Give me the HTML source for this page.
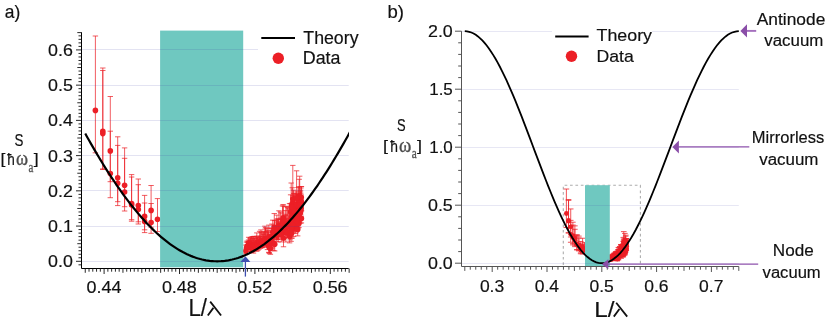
<!DOCTYPE html>
<html><head><meta charset="utf-8"><title>figure</title>
<style>html,body{margin:0;padding:0;background:#fff;font-family:"Liberation Sans",sans-serif;}svg{display:block;will-change:transform}</style></head>
<body>
<svg width="830" height="324" viewBox="0 0 830 324" style="display:block">
<rect x="0" y="0" width="830" height="324" fill="#fff"/>
<path d="M95.40 36.00V152.80M92.70 36.00H98.10M92.70 152.80H98.10M102.80 68.00V168.90M100.10 68.00H105.50M100.10 168.90H105.50M102.80 70.50V169.50M100.10 70.50H105.50M100.10 169.50H105.50M110.30 96.50V181.70M107.60 96.50H113.00M107.60 181.70H113.00M110.30 131.20V197.70M107.60 131.20H113.00M107.60 197.70H113.00M117.70 136.80V201.70M115.00 136.80H120.40M115.00 201.70H120.40M117.70 145.40V205.60M115.00 145.40H120.40M115.00 205.60H120.40M124.60 147.90V206.70M121.90 147.90H127.30M121.90 206.70H127.30M124.60 158.30V211.00M121.90 158.30H127.30M121.90 211.00H127.30M131.60 174.60V219.70M128.90 174.60H134.30M128.90 219.70H134.30M131.60 177.00V221.20M128.90 177.00H134.30M128.90 221.20H134.30M138.30 179.00V221.80M135.60 179.00H141.00M135.60 221.80H141.00M138.30 184.70V224.00M135.60 184.70H141.00M135.60 224.00H141.00M144.60 195.40V229.80M141.90 195.40H147.30M141.90 229.80H147.30M144.60 203.00V232.60M141.90 203.00H147.30M141.90 232.60H147.30M151.10 185.50V227.20M148.40 185.50H153.80M148.40 227.20H153.80M151.10 203.50V233.30M148.40 203.50H153.80M148.40 233.30H153.80M157.50 198.60V231.60M154.80 198.60H160.20M154.80 231.60H160.20M245.78 245.07V253.73M243.08 245.07H248.48M243.08 253.73H248.48M243.52 250.94H248.04M246.51 242.15V251.01M243.81 242.15H249.21M243.81 251.01H249.21M244.25 248.15H248.77M247.10 241.03V248.41M244.40 241.03H249.80M244.40 248.41H249.80M244.84 246.03H249.36M247.90 242.12V249.45M245.20 242.12H250.60M245.20 249.45H250.60M245.63 247.09H250.16M248.68 237.30V245.25M245.98 237.30H251.38M245.98 245.25H251.38M246.42 242.69H250.94M247.75 242.15V249.82M245.05 242.15H250.45M245.05 249.82H250.45M245.49 247.35H250.01M248.54 239.97V249.44M245.84 239.97H251.24M245.84 249.44H251.24M246.28 246.39H250.80M250.05 238.13V248.66M247.35 238.13H252.75M247.35 248.66H252.75M247.78 245.26H252.31M250.05 239.11V251.47M247.35 239.11H252.75M247.35 251.47H252.75M247.79 247.48H252.32M251.33 240.34V251.58M248.63 240.34H254.03M248.63 251.58H254.03M249.07 247.95H253.59M250.83 237.82V249.54M248.13 237.82H253.53M248.13 249.54H253.53M248.57 245.76H253.09M251.48 236.90V246.99M248.78 236.90H254.18M248.78 246.99H254.18M249.22 243.74H253.74M252.85 236.56V249.41M250.15 236.56H255.55M250.15 249.41H255.55M250.59 245.27H255.11M252.64 238.58V249.07M249.94 238.58H255.34M249.94 249.07H255.34M250.37 245.69H254.90M252.56 242.97V252.03M249.86 242.97H255.26M249.86 252.03H255.26M250.30 249.11H254.83M253.48 240.40V253.12M250.78 240.40H256.18M250.78 253.12H256.18M251.22 249.02H255.74M253.68 236.63V249.77M250.98 236.63H256.38M250.98 249.77H256.38M251.42 245.53H255.94M254.30 236.30V247.75M251.60 236.30H257.00M251.60 247.75H257.00M252.04 244.06H256.56M254.84 238.78V248.57M252.14 238.78H257.54M252.14 248.57H257.54M252.58 245.41H257.10M255.71 239.13V249.94M253.01 239.13H258.41M253.01 249.94H258.41M253.45 246.45H257.98M257.07 236.19V246.82M254.37 236.19H259.77M254.37 246.82H259.77M254.81 243.39H259.33M256.73 238.06V251.35M254.03 238.06H259.43M254.03 251.35H259.43M254.46 247.07H258.99M256.81 232.91V247.17M254.11 232.91H259.51M254.11 247.17H259.51M254.55 242.57H259.07M257.68 237.53V247.79M254.98 237.53H260.38M254.98 247.79H260.38M255.42 244.48H259.94M257.84 238.17V250.40M255.14 238.17H260.54M255.14 250.40H260.54M255.58 246.45H260.11M258.92 236.19V249.28M256.22 236.19H261.62M256.22 249.28H261.62M256.65 245.06H261.18M259.62 231.34V247.30M256.92 231.34H262.32M256.92 247.30H262.32M257.36 242.15H261.89M260.52 236.84V248.41M257.82 236.84H263.22M257.82 248.41H263.22M258.25 244.68H262.78M260.92 229.90V246.14M258.22 229.90H263.62M258.22 246.14H263.62M258.66 240.90H263.19M261.24 236.07V247.37M258.54 236.07H263.94M258.54 247.37H263.94M258.98 243.73H263.51M260.92 232.33V244.80M258.22 232.33H263.62M258.22 244.80H263.62M258.66 240.78H263.18M262.63 234.10V246.98M259.93 234.10H265.33M259.93 246.98H265.33M260.37 242.83H264.89M262.18 232.84V247.73M259.48 232.84H264.88M259.48 247.73H264.88M259.91 242.93H264.44M263.72 234.17V247.29M261.02 234.17H266.42M261.02 247.29H266.42M261.46 243.06H265.98M264.34 231.42V245.88M261.64 231.42H267.04M261.64 245.88H267.04M262.08 241.21H266.61M263.58 231.90V245.98M260.88 231.90H266.28M260.88 245.98H266.28M261.32 241.44H265.84M264.88 226.19V244.92M262.18 226.19H267.58M262.18 244.92H267.58M262.61 238.88H267.14M265.53 227.43V243.45M262.83 227.43H268.23M262.83 243.45H268.23M263.27 238.28H267.79M265.27 228.94V246.03M262.57 228.94H267.97M262.57 246.03H267.97M263.01 240.52H267.54M267.04 228.48V245.27M264.34 228.48H269.74M264.34 245.27H269.74M264.78 239.86H269.30M266.84 232.13V244.79M264.14 232.13H269.54M264.14 244.79H269.54M264.58 240.71H269.10M267.46 230.33V249.58M264.76 230.33H270.16M264.76 249.58H270.16M265.20 243.37H269.72M268.28 231.20V246.32M265.58 231.20H270.98M265.58 246.32H270.98M266.01 241.44H270.54M268.72 232.86V252.33M266.02 232.86H271.42M266.02 252.33H271.42M266.46 246.05H270.99M268.84 225.14V242.82M266.14 225.14H271.54M266.14 242.82H271.54M266.58 237.12H271.11M269.32 234.88V252.62M266.62 234.88H272.02M266.62 252.62H272.02M267.06 246.90H271.58M269.39 234.61V253.54M266.69 234.61H272.09M266.69 253.54H272.09M267.13 247.43H271.65M270.38 236.41V254.31M267.68 236.41H273.08M267.68 254.31H273.08M268.12 248.54H272.64M270.98 227.85V241.24M268.28 227.85H273.68M268.28 241.24H273.68M268.72 236.92H273.24M271.75 228.53V243.78M269.05 228.53H274.45M269.05 243.78H274.45M269.49 238.86H274.01M272.42 232.29V247.92M269.72 232.29H275.12M269.72 247.92H275.12M270.16 242.88H274.68M271.91 224.05V243.57M269.21 224.05H274.61M269.21 243.57H274.61M269.65 237.27H274.17M272.72 220.17V237.78M270.02 220.17H275.42M270.02 237.78H275.42M270.46 232.10H274.99M274.29 213.55V233.36M271.59 213.55H276.99M271.59 233.36H276.99M272.03 226.97H276.55M273.77 228.65V250.61M271.07 228.65H276.47M271.07 250.61H276.47M271.51 243.53H276.03M274.57 220.45V237.43M271.87 220.45H277.27M271.87 237.43H277.27M272.31 231.95H276.84M274.73 230.11V250.94M272.03 230.11H277.43M272.03 250.94H277.43M272.46 244.22H276.99M276.48 222.93V238.85M273.78 222.93H279.18M273.78 238.85H279.18M274.22 233.72H278.74M276.25 220.88V241.30M273.55 220.88H278.95M273.55 241.30H278.95M273.99 234.72H278.51M276.84 215.12V237.79M274.14 215.12H279.54M274.14 237.79H279.54M274.58 230.47H279.10M278.10 218.75V241.96M275.40 218.75H280.80M275.40 241.96H280.80M275.84 234.47H280.36M277.21 219.13V239.59M274.51 219.13H279.91M274.51 239.59H279.91M274.95 232.99H279.47M278.14 219.30V238.81M275.44 219.30H280.84M275.44 238.81H280.84M275.88 232.52H280.40M278.24 221.83V239.33M275.54 221.83H280.94M275.54 239.33H280.94M275.97 233.68H280.50M278.94 210.77V232.41M276.24 210.77H281.64M276.24 232.41H281.64M276.67 225.43H281.20M280.24 211.86V237.05M277.54 211.86H282.94M277.54 237.05H282.94M277.97 228.92H282.50M280.81 218.10V233.74M278.11 218.10H283.51M278.11 233.74H283.51M278.54 228.69H283.07M281.01 212.96V230.49M278.31 212.96H283.71M278.31 230.49H283.71M278.75 224.83H283.27M281.24 219.65V241.91M278.54 219.65H283.94M278.54 241.91H283.94M278.97 234.73H283.50M282.49 205.90V230.23M279.79 205.90H285.19M279.79 230.23H285.19M280.23 222.38H284.75M283.24 206.08V223.53M280.54 206.08H285.94M280.54 223.53H285.94M280.98 217.90H285.50M283.08 204.49V230.52M280.38 204.49H285.78M280.38 230.52H285.78M280.82 222.12H285.35M283.49 220.14V246.77M280.79 220.14H286.19M280.79 246.77H286.19M281.23 238.18H285.76M284.15 219.55V238.26M281.45 219.55H286.85M281.45 238.26H286.85M281.89 232.22H286.41M285.07 210.60V229.55M282.37 210.60H287.77M282.37 229.55H287.77M282.80 223.44H287.33M285.86 214.30V241.98M283.16 214.30H288.56M283.16 241.98H288.56M283.60 233.06H288.12M285.84 206.77V233.30M283.14 206.77H288.54M283.14 233.30H288.54M283.58 224.74H288.10M286.08 215.59V237.61M283.38 215.59H288.78M283.38 237.61H288.78M283.82 230.51H288.34M286.91 206.29V232.72M284.21 206.29H289.61M284.21 232.72H289.61M284.65 224.19H289.17M286.70 218.66V237.91M284.00 218.66H289.40M284.00 237.91H289.40M284.44 231.70H288.96M287.63 207.63V231.06M284.93 207.63H290.33M284.93 231.06H290.33M285.37 223.50H289.90M288.75 208.78V234.44M286.05 208.78H291.45M286.05 234.44H291.45M286.48 226.16H291.01M289.61 222.59V242.88M286.91 222.59H292.31M286.91 242.88H292.31M287.34 236.33H291.87M289.50 203.69V230.23M286.80 203.69H292.20M286.80 230.23H292.20M287.24 221.67H291.76M290.19 218.14V239.83M287.49 218.14H292.89M287.49 239.83H292.89M287.93 232.84H292.46M290.33 203.44V232.48M287.63 203.44H293.03M287.63 232.48H293.03M288.07 223.11H292.59M290.60 194.82V220.05M287.90 194.82H293.30M287.90 220.05H293.30M288.33 211.91H292.86M291.11 216.81V241.36M288.41 216.81H293.81M288.41 241.36H293.81M288.85 233.44H293.37M292.25 187.74V211.20M289.55 187.74H294.95M289.55 211.20H294.95M289.98 203.63H294.51M293.07 198.93V223.70M290.37 198.93H295.77M290.37 223.70H295.77M290.80 215.71H295.33M293.43 190.20V221.07M290.73 190.20H296.13M290.73 221.07H296.13M291.16 211.11H295.69M294.30 197.16V222.07M291.60 197.16H297.00M291.60 222.07H297.00M292.04 214.03H296.56M293.63 211.42V236.55M290.93 211.42H296.33M290.93 236.55H296.33M291.36 228.45H295.89M294.44 193.94V221.08M291.74 193.94H297.14M291.74 221.08H297.14M292.18 212.33H296.70M295.88 193.02V214.80M293.18 193.02H298.58M293.18 214.80H298.58M293.62 207.77H298.14M293.45 195.60V214.28M290.75 195.60H296.15M290.75 214.28H296.15M294.78 200.30V230.54M292.08 200.30H297.48M292.08 230.54H297.48M296.38 208.66V222.51M293.68 208.66H299.08M293.68 222.51H299.08M296.59 212.12V227.77M293.89 212.12H299.29M293.89 227.77H299.29M292.75 207.30V220.64M290.05 207.30H295.45M290.05 220.64H295.45M297.71 218.04V235.88M295.01 218.04H300.41M295.01 235.88H300.41M293.50 208.89V228.17M290.80 208.89H296.20M290.80 228.17H296.20M300.45 199.24V220.53M297.75 199.24H303.15M297.75 220.53H303.15M301.44 186.61V210.58M298.74 186.61H304.14M298.74 210.58H304.14M293.57 211.26V223.40M290.87 211.26H296.27M290.87 223.40H296.27M295.46 202.66V233.55M292.76 202.66H298.16M292.76 233.55H298.16M295.27 208.24V221.53M292.57 208.24H297.97M292.57 221.53H297.97M300.54 190.27V223.14M297.84 190.27H303.24M297.84 223.14H303.24M296.33 202.42V221.09M293.63 202.42H299.03M293.63 221.09H299.03M291.82 215.15V238.47M289.12 215.15H294.52M289.12 238.47H294.52M296.81 217.09V229.78M294.11 217.09H299.51M294.11 229.78H299.51M293.21 206.50V226.87M290.51 206.50H295.91M290.51 226.87H295.91M300.70 193.27V214.88M298.00 193.27H303.40M298.00 214.88H303.40M299.02 200.54V215.23M296.32 200.54H301.72M296.32 215.23H301.72M296.43 217.93V229.15M293.73 217.93H299.13M293.73 229.15H299.13M299.84 197.38V210.46M297.14 197.38H302.54M297.14 210.46H302.54M298.76 208.31V221.21M296.06 208.31H301.46M296.06 221.21H301.46M291.25 204.18V225.14M288.55 204.18H293.95M288.55 225.14H293.95M298.40 194.81V210.36M295.70 194.81H301.10M295.70 210.36H301.10M296.32 210.00V231.96M293.62 210.00H299.02M293.62 231.96H299.02M293.77 193.42V213.10M291.07 193.42H296.47M291.07 213.10H296.47M295.30 210.05V231.05M292.60 210.05H298.00M292.60 231.05H298.00M298.30 201.00V216.57M295.60 201.00H301.00M295.60 216.57H301.00M291.82 222.96V237.81M289.12 222.96H294.52M289.12 237.81H294.52M291.20 216.69V234.67M288.50 216.69H293.90M288.50 234.67H293.90M300.89 188.05V206.50M298.19 188.05H303.59M298.19 206.50H303.59M297.93 212.57V227.95M295.23 212.57H300.63M295.23 227.95H300.63M297.75 205.55V224.39M295.05 205.55H300.45M295.05 224.39H300.45M301.25 186.61V203.35M298.55 186.61H303.95M298.55 203.35H303.95M295.26 207.01V218.64M292.56 207.01H297.96M292.56 218.64H297.96M294.99 197.73V218.83M292.29 197.73H297.69M292.29 218.83H297.69M296.36 197.20V218.98M293.66 197.20H299.06M293.66 218.98H299.06M301.41 211.02V222.93M298.71 211.02H304.11M298.71 222.93H304.11M298.96 216.03V227.61M296.26 216.03H301.66M296.26 227.61H301.66M292.75 213.49V230.05M290.05 213.49H295.45M290.05 230.05H295.45M291.70 205.53V227.07M289.00 205.53H294.40M289.00 227.07H294.40M296.55 212.08V226.32M293.85 212.08H299.25M293.85 226.32H299.25M296.90 209.74V223.95M294.20 209.74H299.60M294.20 223.95H299.60M294.16 203.69V215.23M291.46 203.69H296.86M291.46 215.23H296.86M298.92 201.36V216.75M296.22 201.36H301.62M296.22 216.75H301.62M298.85 186.61V201.01M296.15 186.61H301.55M296.15 201.01H301.55M300.48 191.87V207.70M297.78 191.87H303.18M297.78 207.70H303.18M301.18 194.87V216.32M298.48 194.87H303.88M298.48 216.32H303.88M295.95 191.04V212.95M293.25 191.04H298.65M293.25 212.95H298.65M297.35 194.48V210.60M294.65 194.48H300.05M294.65 210.60H300.05M292.80 165.40V218.20M290.10 165.40H295.50M290.10 218.20H295.50M296.60 170.80V213.54M293.90 170.80H299.30M293.90 213.54H299.30M299.70 176.20V218.31M297.00 176.20H302.40M297.00 218.31H302.40M299.20 179.30V219.69M296.50 179.30H301.90M296.50 219.69H301.90M291.20 183.00V220.71M288.50 183.00H293.90M288.50 220.71H293.90M298.00 187.50V226.00M295.30 187.50H300.70M295.30 226.00H300.70" stroke="#ec1f26" stroke-width="1.0" fill="none" stroke-opacity="0.72"/>
<circle cx="95.40" cy="110.40" r="2.8" fill="#ec1f26"/>
<circle cx="102.80" cy="131.30" r="2.8" fill="#ec1f26"/>
<circle cx="102.80" cy="133.60" r="2.8" fill="#ec1f26"/>
<circle cx="110.30" cy="150.90" r="2.8" fill="#ec1f26"/>
<circle cx="110.30" cy="173.50" r="2.8" fill="#ec1f26"/>
<circle cx="117.70" cy="177.80" r="2.8" fill="#ec1f26"/>
<circle cx="117.70" cy="183.20" r="2.8" fill="#ec1f26"/>
<circle cx="124.60" cy="185.20" r="2.8" fill="#ec1f26"/>
<circle cx="124.60" cy="192.00" r="2.8" fill="#ec1f26"/>
<circle cx="131.60" cy="203.50" r="2.8" fill="#ec1f26"/>
<circle cx="131.60" cy="205.00" r="2.8" fill="#ec1f26"/>
<circle cx="138.30" cy="205.60" r="2.8" fill="#ec1f26"/>
<circle cx="138.30" cy="209.50" r="2.8" fill="#ec1f26"/>
<circle cx="144.60" cy="216.40" r="2.8" fill="#ec1f26"/>
<circle cx="144.60" cy="221.40" r="2.8" fill="#ec1f26"/>
<circle cx="151.10" cy="210.40" r="2.8" fill="#ec1f26"/>
<circle cx="151.10" cy="222.50" r="2.8" fill="#ec1f26"/>
<circle cx="157.50" cy="219.20" r="2.8" fill="#ec1f26"/>
<circle cx="245.78" cy="250.94" r="2.8" fill="#ec1f26"/>
<circle cx="246.51" cy="248.15" r="2.8" fill="#ec1f26"/>
<circle cx="247.10" cy="246.03" r="2.8" fill="#ec1f26"/>
<circle cx="247.90" cy="247.09" r="2.8" fill="#ec1f26"/>
<circle cx="248.68" cy="242.69" r="2.8" fill="#ec1f26"/>
<circle cx="247.75" cy="247.35" r="2.8" fill="#ec1f26"/>
<circle cx="248.54" cy="246.39" r="2.8" fill="#ec1f26"/>
<circle cx="250.05" cy="245.26" r="2.8" fill="#ec1f26"/>
<circle cx="250.05" cy="247.48" r="2.8" fill="#ec1f26"/>
<circle cx="251.33" cy="247.95" r="2.8" fill="#ec1f26"/>
<circle cx="250.83" cy="245.76" r="2.8" fill="#ec1f26"/>
<circle cx="251.48" cy="243.74" r="2.8" fill="#ec1f26"/>
<circle cx="252.85" cy="245.27" r="2.8" fill="#ec1f26"/>
<circle cx="252.64" cy="245.69" r="2.8" fill="#ec1f26"/>
<circle cx="252.56" cy="249.11" r="2.8" fill="#ec1f26"/>
<circle cx="253.48" cy="249.02" r="2.8" fill="#ec1f26"/>
<circle cx="253.68" cy="245.53" r="2.8" fill="#ec1f26"/>
<circle cx="254.30" cy="244.06" r="2.8" fill="#ec1f26"/>
<circle cx="254.84" cy="245.41" r="2.8" fill="#ec1f26"/>
<circle cx="255.71" cy="246.45" r="2.8" fill="#ec1f26"/>
<circle cx="257.07" cy="243.39" r="2.8" fill="#ec1f26"/>
<circle cx="256.73" cy="247.07" r="2.8" fill="#ec1f26"/>
<circle cx="256.81" cy="242.57" r="2.8" fill="#ec1f26"/>
<circle cx="257.68" cy="244.48" r="2.8" fill="#ec1f26"/>
<circle cx="257.84" cy="246.45" r="2.8" fill="#ec1f26"/>
<circle cx="258.92" cy="245.06" r="2.8" fill="#ec1f26"/>
<circle cx="259.62" cy="242.15" r="2.8" fill="#ec1f26"/>
<circle cx="260.52" cy="244.68" r="2.8" fill="#ec1f26"/>
<circle cx="260.92" cy="240.90" r="2.8" fill="#ec1f26"/>
<circle cx="261.24" cy="243.73" r="2.8" fill="#ec1f26"/>
<circle cx="260.92" cy="240.78" r="2.8" fill="#ec1f26"/>
<circle cx="262.63" cy="242.83" r="2.8" fill="#ec1f26"/>
<circle cx="262.18" cy="242.93" r="2.8" fill="#ec1f26"/>
<circle cx="263.72" cy="243.06" r="2.8" fill="#ec1f26"/>
<circle cx="264.34" cy="241.21" r="2.8" fill="#ec1f26"/>
<circle cx="263.58" cy="241.44" r="2.8" fill="#ec1f26"/>
<circle cx="264.88" cy="238.88" r="2.8" fill="#ec1f26"/>
<circle cx="265.53" cy="238.28" r="2.8" fill="#ec1f26"/>
<circle cx="265.27" cy="240.52" r="2.8" fill="#ec1f26"/>
<circle cx="267.04" cy="239.86" r="2.8" fill="#ec1f26"/>
<circle cx="266.84" cy="240.71" r="2.8" fill="#ec1f26"/>
<circle cx="267.46" cy="243.37" r="2.8" fill="#ec1f26"/>
<circle cx="268.28" cy="241.44" r="2.8" fill="#ec1f26"/>
<circle cx="268.72" cy="246.05" r="2.8" fill="#ec1f26"/>
<circle cx="268.84" cy="237.12" r="2.8" fill="#ec1f26"/>
<circle cx="269.32" cy="246.90" r="2.8" fill="#ec1f26"/>
<circle cx="269.39" cy="247.43" r="2.8" fill="#ec1f26"/>
<circle cx="270.38" cy="248.54" r="2.8" fill="#ec1f26"/>
<circle cx="270.98" cy="236.92" r="2.8" fill="#ec1f26"/>
<circle cx="271.75" cy="238.86" r="2.8" fill="#ec1f26"/>
<circle cx="272.42" cy="242.88" r="2.8" fill="#ec1f26"/>
<circle cx="271.91" cy="237.27" r="2.8" fill="#ec1f26"/>
<circle cx="272.72" cy="232.10" r="2.8" fill="#ec1f26"/>
<circle cx="274.29" cy="226.97" r="2.8" fill="#ec1f26"/>
<circle cx="273.77" cy="243.53" r="2.8" fill="#ec1f26"/>
<circle cx="274.57" cy="231.95" r="2.8" fill="#ec1f26"/>
<circle cx="274.73" cy="244.22" r="2.8" fill="#ec1f26"/>
<circle cx="276.48" cy="233.72" r="2.8" fill="#ec1f26"/>
<circle cx="276.25" cy="234.72" r="2.8" fill="#ec1f26"/>
<circle cx="276.84" cy="230.47" r="2.8" fill="#ec1f26"/>
<circle cx="278.10" cy="234.47" r="2.8" fill="#ec1f26"/>
<circle cx="277.21" cy="232.99" r="2.8" fill="#ec1f26"/>
<circle cx="278.14" cy="232.52" r="2.8" fill="#ec1f26"/>
<circle cx="278.24" cy="233.68" r="2.8" fill="#ec1f26"/>
<circle cx="278.94" cy="225.43" r="2.8" fill="#ec1f26"/>
<circle cx="280.24" cy="228.92" r="2.8" fill="#ec1f26"/>
<circle cx="280.81" cy="228.69" r="2.8" fill="#ec1f26"/>
<circle cx="281.01" cy="224.83" r="2.8" fill="#ec1f26"/>
<circle cx="281.24" cy="234.73" r="2.8" fill="#ec1f26"/>
<circle cx="282.49" cy="222.38" r="2.8" fill="#ec1f26"/>
<circle cx="283.24" cy="217.90" r="2.8" fill="#ec1f26"/>
<circle cx="283.08" cy="222.12" r="2.8" fill="#ec1f26"/>
<circle cx="283.49" cy="238.18" r="2.8" fill="#ec1f26"/>
<circle cx="284.15" cy="232.22" r="2.8" fill="#ec1f26"/>
<circle cx="285.07" cy="223.44" r="2.8" fill="#ec1f26"/>
<circle cx="285.86" cy="233.06" r="2.8" fill="#ec1f26"/>
<circle cx="285.84" cy="224.74" r="2.8" fill="#ec1f26"/>
<circle cx="286.08" cy="230.51" r="2.8" fill="#ec1f26"/>
<circle cx="286.91" cy="224.19" r="2.8" fill="#ec1f26"/>
<circle cx="286.70" cy="231.70" r="2.8" fill="#ec1f26"/>
<circle cx="287.63" cy="223.50" r="2.8" fill="#ec1f26"/>
<circle cx="288.75" cy="226.16" r="2.8" fill="#ec1f26"/>
<circle cx="289.61" cy="236.33" r="2.8" fill="#ec1f26"/>
<circle cx="289.50" cy="221.67" r="2.8" fill="#ec1f26"/>
<circle cx="290.19" cy="232.84" r="2.8" fill="#ec1f26"/>
<circle cx="290.33" cy="223.11" r="2.8" fill="#ec1f26"/>
<circle cx="290.60" cy="211.91" r="2.8" fill="#ec1f26"/>
<circle cx="291.11" cy="233.44" r="2.8" fill="#ec1f26"/>
<circle cx="292.25" cy="203.63" r="2.8" fill="#ec1f26"/>
<circle cx="293.07" cy="215.71" r="2.8" fill="#ec1f26"/>
<circle cx="293.43" cy="211.11" r="2.8" fill="#ec1f26"/>
<circle cx="294.30" cy="214.03" r="2.8" fill="#ec1f26"/>
<circle cx="293.63" cy="228.45" r="2.8" fill="#ec1f26"/>
<circle cx="294.44" cy="212.33" r="2.8" fill="#ec1f26"/>
<circle cx="295.88" cy="207.77" r="2.8" fill="#ec1f26"/>
<circle cx="293.45" cy="207.49" r="2.8" fill="#ec1f26"/>
<circle cx="294.78" cy="219.54" r="2.8" fill="#ec1f26"/>
<circle cx="296.38" cy="217.47" r="2.8" fill="#ec1f26"/>
<circle cx="296.59" cy="222.08" r="2.8" fill="#ec1f26"/>
<circle cx="292.75" cy="215.79" r="2.8" fill="#ec1f26"/>
<circle cx="297.71" cy="229.39" r="2.8" fill="#ec1f26"/>
<circle cx="293.50" cy="221.16" r="2.8" fill="#ec1f26"/>
<circle cx="300.45" cy="212.79" r="2.8" fill="#ec1f26"/>
<circle cx="301.44" cy="201.86" r="2.8" fill="#ec1f26"/>
<circle cx="293.57" cy="218.99" r="2.8" fill="#ec1f26"/>
<circle cx="295.46" cy="222.32" r="2.8" fill="#ec1f26"/>
<circle cx="295.27" cy="216.70" r="2.8" fill="#ec1f26"/>
<circle cx="300.54" cy="211.19" r="2.8" fill="#ec1f26"/>
<circle cx="296.33" cy="214.30" r="2.8" fill="#ec1f26"/>
<circle cx="291.82" cy="229.99" r="2.8" fill="#ec1f26"/>
<circle cx="296.81" cy="225.16" r="2.8" fill="#ec1f26"/>
<circle cx="293.21" cy="219.46" r="2.8" fill="#ec1f26"/>
<circle cx="300.70" cy="207.02" r="2.8" fill="#ec1f26"/>
<circle cx="299.02" cy="209.88" r="2.8" fill="#ec1f26"/>
<circle cx="296.43" cy="225.07" r="2.8" fill="#ec1f26"/>
<circle cx="299.84" cy="205.70" r="2.8" fill="#ec1f26"/>
<circle cx="298.76" cy="216.52" r="2.8" fill="#ec1f26"/>
<circle cx="291.25" cy="217.52" r="2.8" fill="#ec1f26"/>
<circle cx="298.40" cy="204.71" r="2.8" fill="#ec1f26"/>
<circle cx="296.32" cy="223.97" r="2.8" fill="#ec1f26"/>
<circle cx="293.77" cy="205.95" r="2.8" fill="#ec1f26"/>
<circle cx="295.30" cy="223.42" r="2.8" fill="#ec1f26"/>
<circle cx="298.30" cy="210.91" r="2.8" fill="#ec1f26"/>
<circle cx="291.82" cy="232.41" r="2.8" fill="#ec1f26"/>
<circle cx="291.20" cy="228.13" r="2.8" fill="#ec1f26"/>
<circle cx="300.89" cy="199.79" r="2.8" fill="#ec1f26"/>
<circle cx="297.93" cy="222.36" r="2.8" fill="#ec1f26"/>
<circle cx="297.75" cy="217.54" r="2.8" fill="#ec1f26"/>
<circle cx="301.25" cy="197.26" r="2.8" fill="#ec1f26"/>
<circle cx="295.26" cy="214.41" r="2.8" fill="#ec1f26"/>
<circle cx="294.99" cy="211.16" r="2.8" fill="#ec1f26"/>
<circle cx="296.36" cy="211.06" r="2.8" fill="#ec1f26"/>
<circle cx="301.41" cy="218.60" r="2.8" fill="#ec1f26"/>
<circle cx="298.96" cy="223.40" r="2.8" fill="#ec1f26"/>
<circle cx="292.75" cy="224.03" r="2.8" fill="#ec1f26"/>
<circle cx="291.70" cy="219.24" r="2.8" fill="#ec1f26"/>
<circle cx="296.55" cy="221.14" r="2.8" fill="#ec1f26"/>
<circle cx="296.90" cy="218.79" r="2.8" fill="#ec1f26"/>
<circle cx="294.16" cy="211.03" r="2.8" fill="#ec1f26"/>
<circle cx="298.92" cy="211.16" r="2.8" fill="#ec1f26"/>
<circle cx="298.85" cy="195.77" r="2.8" fill="#ec1f26"/>
<circle cx="300.48" cy="201.94" r="2.8" fill="#ec1f26"/>
<circle cx="301.18" cy="208.52" r="2.8" fill="#ec1f26"/>
<circle cx="295.95" cy="204.98" r="2.8" fill="#ec1f26"/>
<circle cx="297.35" cy="204.73" r="2.8" fill="#ec1f26"/>
<circle cx="292.80" cy="199.00" r="2.8" fill="#ec1f26"/>
<circle cx="296.60" cy="198.00" r="2.8" fill="#ec1f26"/>
<circle cx="299.70" cy="203.00" r="2.8" fill="#ec1f26"/>
<circle cx="299.20" cy="205.00" r="2.8" fill="#ec1f26"/>
<circle cx="291.20" cy="207.00" r="2.8" fill="#ec1f26"/>
<circle cx="298.00" cy="212.00" r="2.8" fill="#ec1f26"/>
<rect x="160.1" y="30.6" width="83.10" height="236.70" fill="#6fc8c0"/>
<line x1="81.5" y1="261.50" x2="348.7" y2="261.50" stroke="rgba(70,70,170,0.15)" stroke-width="1"/>
<line x1="81.5" y1="226.50" x2="348.7" y2="226.50" stroke="rgba(70,70,170,0.15)" stroke-width="1"/>
<line x1="81.5" y1="190.50" x2="348.7" y2="190.50" stroke="rgba(70,70,170,0.15)" stroke-width="1"/>
<line x1="81.5" y1="155.50" x2="348.7" y2="155.50" stroke="rgba(70,70,170,0.15)" stroke-width="1"/>
<line x1="81.5" y1="120.50" x2="348.7" y2="120.50" stroke="rgba(70,70,170,0.15)" stroke-width="1"/>
<line x1="81.5" y1="85.50" x2="348.7" y2="85.50" stroke="rgba(70,70,170,0.15)" stroke-width="1"/>
<line x1="81.5" y1="49.50" x2="348.7" y2="49.50" stroke="rgba(70,70,170,0.15)" stroke-width="1"/>
<rect x="258" y="24" width="108" height="46" fill="#fff"/>
<clipPath id="cl"><rect x="81.5" y="20" width="267.50" height="250"/></clipPath>
<path d="M85.25 133.56 L87.13 136.96 L89.02 140.32 L90.90 143.64 L92.79 146.92 L94.67 150.17 L96.56 153.37 L98.44 156.54 L100.33 159.67 L102.21 162.76 L104.10 165.82 L105.98 168.83 L107.87 171.80 L109.75 174.72 L111.64 177.61 L113.53 180.45 L115.41 183.25 L117.30 186.01 L119.18 188.72 L121.07 191.39 L122.95 194.02 L124.84 196.60 L126.72 199.13 L128.61 201.62 L130.49 204.06 L132.38 206.46 L134.26 208.81 L136.15 211.11 L138.03 213.36 L139.92 215.57 L141.80 217.72 L143.69 219.83 L145.57 221.89 L147.46 223.90 L149.34 225.86 L151.23 227.77 L153.11 229.63 L155.00 231.44 L156.88 233.20 L158.77 234.90 L160.65 236.56 L162.54 238.16 L164.42 239.72 L166.31 241.22 L168.19 242.66 L170.08 244.06 L171.96 245.40 L173.85 246.69 L175.73 247.92 L177.62 249.10 L179.50 250.23 L181.39 251.31 L183.27 252.33 L185.16 253.29 L187.04 254.20 L188.93 255.06 L190.81 255.86 L192.70 256.61 L194.58 257.30 L196.47 257.94 L198.35 258.52 L200.24 259.05 L202.12 259.52 L204.01 259.94 L205.89 260.30 L207.78 260.60 L209.66 260.86 L211.55 261.05 L213.43 261.19 L215.32 261.27 L217.20 261.30 L219.08 261.27 L220.97 261.19 L222.85 261.05 L224.74 260.86 L226.62 260.60 L228.51 260.30 L230.39 259.94 L232.28 259.52 L234.16 259.05 L236.05 258.52 L237.94 257.94 L239.82 257.30 L241.71 256.61 L243.59 255.86 L245.48 255.06 L247.36 254.20 L249.25 253.29 L251.13 252.33 L253.02 251.31 L254.90 250.23 L256.79 249.10 L258.67 247.92 L260.56 246.69 L262.44 245.40 L264.33 244.06 L266.21 242.66 L268.10 241.22 L269.98 239.72 L271.87 238.16 L273.75 236.56 L275.64 234.90 L277.52 233.20 L279.41 231.44 L281.29 229.63 L283.18 227.77 L285.06 225.86 L286.95 223.90 L288.83 221.89 L290.72 219.83 L292.60 217.72 L294.49 215.57 L296.37 213.36 L298.26 211.11 L300.14 208.81 L302.03 206.46 L303.91 204.06 L305.80 201.62 L307.68 199.13 L309.57 196.60 L311.45 194.02 L313.34 191.39 L315.22 188.72 L317.11 186.01 L318.99 183.25 L320.88 180.45 L322.76 177.61 L324.65 174.72 L326.53 171.80 L328.42 168.83 L330.30 165.82 L332.19 162.76 L334.07 159.67 L335.96 156.54 L337.84 153.37 L339.73 150.17 L341.61 146.92 L343.50 143.64 L345.38 140.32 L347.27 136.96 L349.15 133.56 L351.04 130.14 L352.92 126.67 L354.81 123.17" stroke="#000" stroke-width="2.2" fill="none" clip-path="url(#cl)"/>
<path d="M81.5 32.3V268.5H348.7" stroke="#000" stroke-width="1" fill="none"/>
<path d="M81.5 264.82h-3.0M81.5 261.30h-5.5M81.5 257.78h-3.0M81.5 254.25h-3.0M81.5 250.73h-3.0M81.5 247.21h-3.0M81.5 243.69h-4.2M81.5 240.16h-3.0M81.5 236.64h-3.0M81.5 233.12h-3.0M81.5 229.59h-3.0M81.5 226.07h-5.5M81.5 222.55h-3.0M81.5 219.02h-3.0M81.5 215.50h-3.0M81.5 211.98h-3.0M81.5 208.46h-4.2M81.5 204.93h-3.0M81.5 201.41h-3.0M81.5 197.89h-3.0M81.5 194.36h-3.0M81.5 190.84h-5.5M81.5 187.32h-3.0M81.5 183.79h-3.0M81.5 180.27h-3.0M81.5 176.75h-3.0M81.5 173.23h-4.2M81.5 169.70h-3.0M81.5 166.18h-3.0M81.5 162.66h-3.0M81.5 159.13h-3.0M81.5 155.61h-5.5M81.5 152.09h-3.0M81.5 148.56h-3.0M81.5 145.04h-3.0M81.5 141.52h-3.0M81.5 138.00h-4.2M81.5 134.47h-3.0M81.5 130.95h-3.0M81.5 127.43h-3.0M81.5 123.90h-3.0M81.5 120.38h-5.5M81.5 116.86h-3.0M81.5 113.33h-3.0M81.5 109.81h-3.0M81.5 106.29h-3.0M81.5 102.77h-4.2M81.5 99.24h-3.0M81.5 95.72h-3.0M81.5 92.20h-3.0M81.5 88.67h-3.0M81.5 85.15h-5.5M81.5 81.63h-3.0M81.5 78.10h-3.0M81.5 74.58h-3.0M81.5 71.06h-3.0M81.5 67.53h-4.2M81.5 64.01h-3.0M81.5 60.49h-3.0M81.5 56.97h-3.0M81.5 53.44h-3.0M81.5 49.92h-5.5M81.5 46.40h-3.0M81.5 42.87h-3.0M81.5 39.35h-3.0M81.5 35.83h-3.0M81.5 32.60h-4.2M85.25 268.5v4.3M89.02 268.5v3.2M92.79 268.5v3.2M96.56 268.5v3.2M100.33 268.5v3.2M104.10 268.5v5.5M107.87 268.5v3.2M111.64 268.5v3.2M115.41 268.5v3.2M119.18 268.5v3.2M122.95 268.5v4.3M126.72 268.5v3.2M130.49 268.5v3.2M134.26 268.5v3.2M138.03 268.5v3.2M141.80 268.5v4.3M145.57 268.5v3.2M149.34 268.5v3.2M153.11 268.5v3.2M156.88 268.5v3.2M160.65 268.5v4.3M164.42 268.5v3.2M168.19 268.5v3.2M171.96 268.5v3.2M175.73 268.5v3.2M179.50 268.5v5.5M183.27 268.5v3.2M187.04 268.5v3.2M190.81 268.5v3.2M194.58 268.5v3.2M198.35 268.5v4.3M202.12 268.5v3.2M205.89 268.5v3.2M209.66 268.5v3.2M213.43 268.5v3.2M217.20 268.5v4.3M220.97 268.5v3.2M224.74 268.5v3.2M228.51 268.5v3.2M232.28 268.5v3.2M236.05 268.5v4.3M239.82 268.5v3.2M243.59 268.5v3.2M247.36 268.5v3.2M251.13 268.5v3.2M254.90 268.5v5.5M258.67 268.5v3.2M262.44 268.5v3.2M266.21 268.5v3.2M269.98 268.5v3.2M273.75 268.5v4.3M277.52 268.5v3.2M281.29 268.5v3.2M285.06 268.5v3.2M288.83 268.5v3.2M292.60 268.5v4.3M296.37 268.5v3.2M300.14 268.5v3.2M303.91 268.5v3.2M307.68 268.5v3.2M311.45 268.5v4.3M315.22 268.5v3.2M318.99 268.5v3.2M322.76 268.5v3.2M326.53 268.5v3.2M330.30 268.5v5.5M334.07 268.5v3.2M337.84 268.5v3.2M341.61 268.5v3.2M345.38 268.5v3.2M349.15 268.5v4.3" stroke="#111" stroke-width="0.9" fill="none"/>
<text x="48.00" y="267.20" font-family="Liberation Sans, sans-serif" font-size="16.5" fill="#111" textLength="24.80" lengthAdjust="spacingAndGlyphs" stroke="#111" stroke-width="0.18">0.0</text>
<text x="48.00" y="231.97" font-family="Liberation Sans, sans-serif" font-size="16.5" fill="#111" textLength="24.80" lengthAdjust="spacingAndGlyphs" stroke="#111" stroke-width="0.18">0.1</text>
<text x="48.00" y="196.74" font-family="Liberation Sans, sans-serif" font-size="16.5" fill="#111" textLength="24.80" lengthAdjust="spacingAndGlyphs" stroke="#111" stroke-width="0.18">0.2</text>
<text x="48.00" y="161.51" font-family="Liberation Sans, sans-serif" font-size="16.5" fill="#111" textLength="24.80" lengthAdjust="spacingAndGlyphs" stroke="#111" stroke-width="0.18">0.3</text>
<text x="48.00" y="126.28" font-family="Liberation Sans, sans-serif" font-size="16.5" fill="#111" textLength="24.80" lengthAdjust="spacingAndGlyphs" stroke="#111" stroke-width="0.18">0.4</text>
<text x="48.00" y="91.05" font-family="Liberation Sans, sans-serif" font-size="16.5" fill="#111" textLength="24.80" lengthAdjust="spacingAndGlyphs" stroke="#111" stroke-width="0.18">0.5</text>
<text x="48.00" y="55.82" font-family="Liberation Sans, sans-serif" font-size="16.5" fill="#111" textLength="24.80" lengthAdjust="spacingAndGlyphs" stroke="#111" stroke-width="0.18">0.6</text>
<text x="86.50" y="292.50" font-family="Liberation Sans, sans-serif" font-size="17" fill="#111" textLength="34.90" lengthAdjust="spacingAndGlyphs" stroke="#111" stroke-width="0.18">0.44</text>
<text x="161.90" y="292.50" font-family="Liberation Sans, sans-serif" font-size="17" fill="#111" textLength="34.90" lengthAdjust="spacingAndGlyphs" stroke="#111" stroke-width="0.18">0.48</text>
<text x="237.30" y="292.50" font-family="Liberation Sans, sans-serif" font-size="17" fill="#111" textLength="34.90" lengthAdjust="spacingAndGlyphs" stroke="#111" stroke-width="0.18">0.52</text>
<text x="312.70" y="292.50" font-family="Liberation Sans, sans-serif" font-size="17" fill="#111" textLength="34.90" lengthAdjust="spacingAndGlyphs" stroke="#111" stroke-width="0.18">0.56</text>
<path d="M245.4 276.6V261" stroke="#3f4fb0" stroke-width="1.3" fill="none"/>
<path d="M245.4 256.3L250.4 261.9H240.4Z" fill="#3f4fb0"/>
<line x1="261.3" y1="38.1" x2="295" y2="38.1" stroke="#000" stroke-width="2"/>
<circle cx="278.3" cy="58.3" r="5.7" fill="#ec1f26"/>
<text x="303.30" y="44.10" font-family="Liberation Sans, sans-serif" font-size="17.5" fill="#111" textLength="55.20" lengthAdjust="spacingAndGlyphs" stroke="#111" stroke-width="0.18">Theory</text>
<text x="302.80" y="63.90" font-family="Liberation Sans, sans-serif" font-size="17.5" fill="#111" textLength="37.70" lengthAdjust="spacingAndGlyphs" stroke="#111" stroke-width="0.18">Data</text>
<text x="4.80" y="17.70" font-family="Liberation Sans, sans-serif" font-size="19" fill="#111" textLength="15.50" lengthAdjust="spacingAndGlyphs" stroke="#111" stroke-width="0.18">a)</text>
<text x="14.50" y="145.70" font-family="Liberation Sans, sans-serif" font-size="17.3" fill="#111" textLength="8.90" lengthAdjust="spacingAndGlyphs" stroke="#111" stroke-width="0.18">S</text>
<text x="0.42" y="164.30" font-family="Liberation Sans, sans-serif" font-size="15.5" fill="#111" textLength="4.89" lengthAdjust="spacingAndGlyphs" stroke="#111" stroke-width="0.18">[</text>
<text x="7.37" y="164.70" font-family="Liberation Sans, sans-serif" font-size="16.6" fill="#111" textLength="7.54" lengthAdjust="spacingAndGlyphs" stroke="#111" stroke-width="0.18">&#295;</text>
<text x="16.07" y="164.70" font-family="Liberation Serif, serif" font-size="20" fill="#4a4a4a" textLength="12.04" lengthAdjust="spacingAndGlyphs" stroke="#4a4a4a" stroke-width="0.35">&#969;</text>
<text x="28.41" y="172.00" font-family="Liberation Serif, serif" font-size="14" fill="#555" textLength="4.89" lengthAdjust="spacingAndGlyphs" stroke="#555" stroke-width="0.3">a</text>
<text x="33.69" y="164.30" font-family="Liberation Sans, sans-serif" font-size="15.5" fill="#111" textLength="4.89" lengthAdjust="spacingAndGlyphs" stroke="#111" stroke-width="0.18">]</text>
<text x="188.50" y="315.50" font-family="Liberation Sans, sans-serif" font-size="23" fill="#111" textLength="18.50" lengthAdjust="spacingAndGlyphs" stroke="#111" stroke-width="0.18">L/</text>
<path d="M210.19 301.60L221.10 315.50M213.39 307.86L207.80 315.50" stroke="#111" stroke-width="1.8" fill="none"/>
<path d="M563.3 265V185.3H640.4V265" stroke="#adadad" stroke-width="1.1" fill="none" stroke-dasharray="2.7 2.7"/>
<path d="M566.39 189.02V227.47M563.59 189.02H569.19M563.59 227.47H569.19M568.54 199.55V232.78M565.74 199.55H571.34M565.74 232.78H571.34M568.54 200.38V232.97M565.74 200.38H571.34M565.74 232.97H571.34M570.72 208.94V236.99M567.92 208.94H573.52M567.92 236.99H573.52M570.72 220.36V242.26M567.92 220.36H573.52M567.92 242.26H573.52M572.87 222.21V243.58M570.07 222.21H575.67M570.07 243.58H575.67M572.87 225.04V244.86M570.07 225.04H575.67M570.07 244.86H575.67M574.88 225.86V245.22M572.08 225.86H577.68M572.08 245.22H577.68M574.88 229.29V246.64M572.08 229.29H577.68M572.08 246.64H577.68M576.91 234.65V249.50M574.11 234.65H579.71M574.11 249.50H579.71M576.91 235.44V250.00M574.11 235.44H579.71M574.11 250.00H579.71M578.86 236.10V250.19M576.06 236.10H581.66M576.06 250.19H581.66M578.86 237.98V250.92M576.06 237.98H581.66M576.06 250.92H581.66M580.69 241.50V252.83M577.89 241.50H583.49M577.89 252.83H583.49M580.69 244.00V253.75M577.89 244.00H583.49M577.89 253.75H583.49M582.58 238.24V251.97M579.78 238.24H585.38M579.78 251.97H585.38M582.58 244.17V253.98M579.78 244.17H585.38M579.78 253.98H585.38M584.44 242.56V253.42M581.64 242.56H587.24M581.64 253.42H587.24M610.11 257.86V260.71M607.31 257.86H612.91M607.31 260.71H612.91M609.45 259.79H610.77M610.32 256.89V259.81M607.52 256.89H613.12M607.52 259.81H613.12M609.66 258.87H610.98M610.49 256.52V258.96M607.69 256.52H613.29M607.69 258.96H613.29M609.83 258.17H611.15M610.72 256.89V259.30M607.92 256.89H613.52M607.92 259.30H613.52M610.07 258.52H611.38M610.95 255.30V257.92M608.15 255.30H613.75M608.15 257.92H613.75M610.29 257.07H611.61M610.68 256.89V259.42M607.88 256.89H613.48M607.88 259.42H613.48M610.02 258.61H611.34M610.91 256.18V259.30M608.11 256.18H613.71M608.11 259.30H613.71M610.25 258.29H611.57M611.35 255.57V259.04M608.55 255.57H614.15M608.55 259.04H614.15M610.69 257.92H612.01M611.35 255.89V259.96M608.55 255.89H614.15M608.55 259.96H614.15M610.69 258.65H612.01M611.72 256.30V260.00M608.92 256.30H614.52M608.92 260.00H614.52M611.06 258.81H612.38M611.58 255.47V259.33M608.78 255.47H614.38M608.78 259.33H614.38M610.92 258.08H612.23M611.77 255.17V258.49M608.97 255.17H614.57M608.97 258.49H614.57M611.11 257.42H612.42M612.16 255.05V259.29M609.36 255.05H614.96M609.36 259.29H614.96M611.51 257.92H612.82M612.10 255.72V259.17M609.30 255.72H614.90M609.30 259.17H614.90M611.44 258.06H612.76M612.08 257.16V260.15M609.28 257.16H614.88M609.28 260.15H614.88M611.42 259.19H612.74M612.35 256.32V260.51M609.55 256.32H615.15M609.55 260.51H615.15M611.69 259.16H613.00M612.41 255.08V259.40M609.61 255.08H615.21M609.61 259.40H615.21M611.75 258.01H613.06M612.58 254.97V258.74M609.78 254.97H615.38M609.78 258.74H615.38M611.93 257.52H613.24M612.74 255.78V259.01M609.94 255.78H615.54M609.94 259.01H615.54M612.09 257.97H613.40M613.00 255.90V259.46M610.20 255.90H615.80M610.20 259.46H615.80M612.34 258.31H613.65M613.39 254.93V258.43M610.59 254.93H616.19M610.59 258.43H616.19M612.73 257.30H614.05M613.29 255.55V259.93M610.49 255.55H616.09M610.49 259.93H616.09M612.63 258.51H613.95M613.31 253.85V258.55M610.51 253.85H616.11M610.51 258.55H616.11M612.66 257.03H613.97M613.57 255.37V258.75M610.77 255.37H616.37M610.77 258.75H616.37M612.91 257.66H614.23M613.62 255.58V259.61M610.82 255.58H616.42M610.82 259.61H616.42M612.96 258.31H614.27M613.93 254.93V259.24M611.13 254.93H616.73M611.13 259.24H616.73M613.27 257.85H614.59M614.13 253.33V258.59M611.33 253.33H616.93M611.33 258.59H616.93M613.48 256.90H614.79M614.39 255.15V258.95M611.59 255.15H617.19M611.59 258.95H617.19M613.74 257.73H615.05M614.51 252.86V258.21M611.71 252.86H617.31M611.71 258.21H617.31M613.85 256.48H615.17M614.60 254.89V258.61M611.80 254.89H617.40M611.80 258.61H617.40M613.95 257.41H615.26M614.51 253.66V257.77M611.71 253.66H617.31M611.71 257.77H617.31M613.85 256.44H615.17M615.01 254.24V258.49M612.21 254.24H617.81M612.21 258.49H617.81M614.35 257.12H615.66M614.88 253.83V258.73M612.08 253.83H617.68M612.08 258.73H617.68M614.22 257.15H615.53M615.32 254.27V258.59M612.52 254.27H618.12M612.52 258.59H618.12M614.67 257.19H615.98M615.51 253.36V258.12M612.71 253.36H618.31M612.71 258.12H618.31M614.85 256.59H616.16M615.28 253.52V258.16M612.48 253.52H618.08M612.48 258.16H618.08M614.63 256.66H615.94M615.66 251.64V257.81M612.86 251.64H618.46M612.86 257.81H618.46M615.00 255.82H616.32M615.85 252.05V257.32M613.05 252.05H618.65M613.05 257.32H618.65M615.19 255.62H616.51M615.78 252.55V258.17M612.98 252.55H618.58M612.98 258.17H618.58M615.12 256.36H616.43M616.29 252.39V257.92M613.49 252.39H619.09M613.49 257.92H619.09M615.63 256.14H616.95M616.23 253.60V257.76M613.43 253.60H619.03M613.43 257.76H619.03M615.57 256.42H616.89M616.41 253.00V259.34M613.61 253.00H619.21M613.61 259.34H619.21M615.75 257.30H617.07M616.65 253.29V258.27M613.85 253.29H619.45M613.85 258.27H619.45M615.99 256.66H617.31M616.78 253.84V260.25M613.98 253.84H619.58M613.98 260.25H619.58M616.12 258.18H617.44M616.81 251.29V257.12M614.01 251.29H619.61M614.01 257.12H619.61M616.16 255.24H617.47M616.95 254.50V260.34M614.15 254.50H619.75M614.15 260.34H619.75M616.29 258.46H617.61M616.97 254.41V260.64M614.17 254.41H619.77M614.17 260.64H619.77M616.31 258.63H617.63M617.26 255.01V260.90M614.46 255.01H620.06M614.46 260.90H620.06M616.60 259.00H617.92M617.44 252.19V256.59M614.64 252.19H620.24M614.64 256.59H620.24M616.78 255.17H618.09M617.66 252.41V257.43M614.86 252.41H620.46M614.86 257.43H620.46M617.00 255.81H618.32M617.85 253.65V258.79M615.05 253.65H620.65M615.05 258.79H620.65M617.20 257.13H618.51M617.71 250.94V257.36M614.91 250.94H620.51M614.91 257.36H620.51M617.05 255.29H618.36M617.94 249.66V255.46M615.14 249.66H620.74M615.14 255.46H620.74M617.28 253.59H618.60M618.40 247.48V254.00M615.60 247.48H621.20M615.60 254.00H621.20M617.74 251.90H619.05M618.25 252.45V259.68M615.45 252.45H621.05M615.45 259.68H621.05M617.59 257.35H618.90M618.48 249.75V255.34M615.68 249.75H621.28M615.68 255.34H621.28M617.82 253.54H619.14M618.52 252.93V259.79M615.72 252.93H621.32M615.72 259.79H621.32M617.87 257.58H619.18M619.03 250.57V255.81M616.23 250.57H621.83M616.23 255.81H621.83M618.38 254.12H619.69M618.97 249.89V256.62M616.17 249.89H621.77M616.17 256.62H621.77M618.31 254.45H619.62M619.14 247.99V255.46M616.34 247.99H621.94M616.34 255.46H621.94M618.48 253.05H619.80M619.51 249.19V256.83M616.71 249.19H622.31M616.71 256.83H622.31M618.85 254.37H620.16M619.25 249.31V256.05M616.45 249.31H622.05M616.45 256.05H622.05M618.59 253.88H619.90M619.52 249.37V255.79M616.72 249.37H622.32M616.72 255.79H622.32M618.86 253.72H620.17M619.54 250.20V255.97M616.74 250.20H622.34M616.74 255.97H622.34M618.89 254.11H620.20M619.75 246.56V253.69M616.95 246.56H622.55M616.95 253.69H622.55M619.09 251.39H620.41M620.13 246.92V255.21M617.33 246.92H622.93M617.33 255.21H622.93M619.47 252.54H620.78M620.29 248.98V254.12M617.49 248.98H623.09M617.49 254.12H623.09M619.63 252.46H620.95M620.35 247.28V253.05M617.55 247.28H623.15M617.55 253.05H623.15M619.69 251.19H621.01M620.42 249.49V256.81M617.62 249.49H623.22M617.62 256.81H623.22M619.76 254.45H621.07M620.78 244.96V252.97M617.98 244.96H623.58M617.98 252.97H623.58M620.12 250.38H621.44M621.00 245.02V250.76M618.20 245.02H623.80M618.20 250.76H623.80M620.34 248.91H621.66M620.95 244.49V253.06M618.15 244.49H623.75M618.15 253.06H623.75M620.30 250.30H621.61M621.07 249.65V258.41M618.27 249.65H623.87M618.27 258.41H623.87M620.42 255.59H621.73M621.26 249.45V255.61M618.46 249.45H624.06M618.46 255.61H624.06M620.61 253.63H621.92M621.53 246.50V252.75M618.73 246.50H624.33M618.73 252.75H624.33M620.87 250.73H622.19M621.76 247.73V256.84M618.96 247.73H624.56M618.96 256.84H624.56M621.10 253.90H622.42M621.75 245.24V253.98M618.95 245.24H624.55M618.95 253.98H624.55M621.10 251.16H622.41M621.82 248.15V255.40M619.02 248.15H624.62M619.02 255.40H624.62M621.17 253.06H622.48M622.07 245.09V253.79M619.27 245.09H624.87M619.27 253.79H624.87M621.41 250.98H622.72M622.00 249.16V255.50M619.20 249.16H624.80M619.20 255.50H624.80M621.35 253.45H622.66M622.28 245.53V253.24M619.48 245.53H625.08M619.48 253.24H625.08M621.62 250.75H622.93M622.60 245.91V254.36M619.80 245.91H625.40M619.80 254.36H625.40M621.94 251.63H623.26M622.85 250.45V257.13M620.05 250.45H625.65M620.05 257.13H625.65M622.19 254.98H623.51M622.82 244.23V252.97M620.02 244.23H625.62M620.02 252.97H625.62M622.16 250.15H623.48M623.02 248.99V256.13M620.22 248.99H625.82M620.22 256.13H625.82M622.36 253.83H623.68M623.06 244.15V253.71M620.26 244.15H625.86M620.26 253.71H625.86M622.40 250.63H623.72M623.14 241.31V249.62M620.34 241.31H625.94M620.34 249.62H625.94M622.48 246.94H623.79M623.29 248.55V256.64M620.49 248.55H626.09M620.49 256.64H626.09M622.63 254.03H623.94M623.62 238.98V246.70M620.82 238.98H626.42M620.82 246.70H626.42M622.96 244.21H624.27M623.86 242.66V250.82M621.06 242.66H626.66M621.06 250.82H626.66M623.20 248.19H624.51M623.96 239.79V249.95M621.16 239.79H626.76M621.16 249.95H626.76M623.30 246.67H624.62M624.21 242.08V250.28M621.41 242.08H627.01M621.41 250.28H627.01M623.56 247.64H624.87M624.02 246.78V255.05M621.22 246.78H626.82M621.22 255.05H626.82M623.36 252.38H624.68M624.25 241.02V249.96M621.45 241.02H627.05M621.45 249.96H627.05M623.60 247.07H624.91M624.67 240.72V247.89M621.87 240.72H627.47M621.87 247.89H627.47M624.02 245.58H625.33M623.97 241.57V247.72M621.17 241.57H626.77M621.17 247.72H626.77M624.35 243.12V253.07M621.55 243.12H627.15M621.55 253.07H627.15M624.82 245.87V250.43M622.02 245.87H627.62M622.02 250.43H627.62M624.88 247.01V252.16M622.08 247.01H627.68M622.08 252.16H627.68M623.76 245.42V249.81M620.96 245.42H626.56M620.96 249.81H626.56M625.21 248.95V254.83M622.41 248.95H628.01M622.41 254.83H628.01M623.98 245.94V252.29M621.18 245.94H626.78M621.18 252.29H626.78M626.00 242.77V249.78M623.20 242.77H628.80M623.20 249.78H628.80M626.29 238.61V246.50M623.49 238.61H629.09M623.49 246.50H629.09M624.00 246.72V250.72M621.20 246.72H626.80M621.20 250.72H626.80M624.55 243.89V254.06M621.75 243.89H627.35M621.75 254.06H627.35M624.50 245.73V250.11M621.70 245.73H627.30M621.70 250.11H627.30M626.03 239.81V250.64M623.23 239.81H628.83M623.23 250.64H628.83M624.81 243.81V249.96M622.01 243.81H627.61M622.01 249.96H627.61M623.49 248.00V255.68M620.69 248.00H626.29M620.69 255.68H626.29M624.94 248.64V252.82M622.14 248.64H627.74M622.14 252.82H627.74M623.90 245.16V251.86M621.10 245.16H626.70M621.10 251.86H626.70M626.08 240.80V247.92M623.28 240.80H628.88M623.28 247.92H628.88M625.59 243.19V248.03M622.79 243.19H628.39M622.79 248.03H628.39M624.83 248.92V252.61M622.03 248.92H627.63M622.03 252.61H627.63M625.83 242.15V246.46M623.03 242.15H628.63M623.03 246.46H628.63M625.51 245.75V250.00M622.71 245.75H628.31M622.71 250.00H628.31M623.33 244.39V251.30M620.53 244.39H626.13M620.53 251.30H626.13M625.41 241.31V246.43M622.61 241.31H628.21M622.61 246.43H628.21M624.80 246.31V253.54M622.00 246.31H627.60M622.00 253.54H627.60M624.06 240.85V247.33M621.26 240.85H626.86M621.26 247.33H626.86M624.50 246.33V253.24M621.70 246.33H627.30M621.70 253.24H627.30M625.38 243.35V248.47M622.58 243.35H628.18M622.58 248.47H628.18M623.49 250.58V255.47M620.69 250.58H626.29M620.69 255.47H626.29M623.31 248.51V254.43M620.51 248.51H626.11M620.51 254.43H626.11M626.13 239.08V245.15M623.33 239.08H628.93M623.33 245.15H628.93M625.27 247.15V252.22M622.47 247.15H628.07M622.47 252.22H628.07M625.22 244.84V251.05M622.42 244.84H628.02M622.42 251.05H628.02M626.24 238.61V244.12M623.44 238.61H629.04M623.44 244.12H629.04M624.49 245.32V249.15M621.69 245.32H627.29M621.69 249.15H627.29M624.41 242.27V249.22M621.61 242.27H627.21M621.61 249.22H627.21M624.81 242.09V249.27M622.01 242.09H627.61M622.01 249.27H627.61M626.28 246.64V250.57M623.48 246.64H629.08M623.48 250.57H629.08M625.57 248.30V252.11M622.77 248.30H628.37M622.77 252.11H628.37M623.76 247.46V252.91M620.96 247.46H626.56M620.96 252.91H626.56M623.46 244.84V251.93M620.66 244.84H626.26M620.66 251.93H626.26M624.87 246.99V251.68M622.07 246.99H627.67M622.07 251.68H627.67M624.97 246.22V250.90M622.17 246.22H627.77M622.17 250.90H627.77M624.17 244.23V248.03M621.37 244.23H626.97M621.37 248.03H626.97M625.56 243.47V248.53M622.76 243.47H628.36M622.76 248.53H628.36M625.54 238.61V243.35M622.74 238.61H628.34M622.74 243.35H628.34M626.01 240.34V245.55M623.21 240.34H628.81M623.21 245.55H628.81M626.21 241.33V248.39M623.41 241.33H629.01M623.41 248.39H629.01M624.69 240.07V247.28M621.89 240.07H627.49M621.89 247.28H627.49M625.10 241.20V246.50M622.30 241.20H627.90M622.30 246.50H627.90M623.78 231.62V249.01M620.98 231.62H626.58M620.98 249.01H626.58M624.88 233.40V247.48M622.08 233.40H627.68M622.08 247.48H627.68M625.78 235.18V249.05M622.98 235.18H628.58M622.98 249.05H628.58M625.64 236.20V249.50M622.84 236.20H628.44M622.84 249.50H628.44M623.31 237.42V249.84M620.51 237.42H626.11M620.51 249.84H626.11M625.29 238.90V251.58M622.49 238.90H628.09M622.49 251.58H628.09" stroke="#ec1f26" stroke-width="0.9" fill="none" stroke-opacity="0.85"/>
<circle cx="566.39" cy="213.51" r="2.4" fill="#ec1f26"/>
<circle cx="568.54" cy="220.40" r="2.4" fill="#ec1f26"/>
<circle cx="568.54" cy="221.15" r="2.4" fill="#ec1f26"/>
<circle cx="570.72" cy="226.85" r="2.4" fill="#ec1f26"/>
<circle cx="570.72" cy="234.29" r="2.4" fill="#ec1f26"/>
<circle cx="572.87" cy="235.71" r="2.4" fill="#ec1f26"/>
<circle cx="572.87" cy="237.48" r="2.4" fill="#ec1f26"/>
<circle cx="574.88" cy="238.14" r="2.4" fill="#ec1f26"/>
<circle cx="574.88" cy="240.38" r="2.4" fill="#ec1f26"/>
<circle cx="576.91" cy="244.17" r="2.4" fill="#ec1f26"/>
<circle cx="576.91" cy="244.66" r="2.4" fill="#ec1f26"/>
<circle cx="578.86" cy="244.86" r="2.4" fill="#ec1f26"/>
<circle cx="578.86" cy="246.14" r="2.4" fill="#ec1f26"/>
<circle cx="580.69" cy="248.42" r="2.4" fill="#ec1f26"/>
<circle cx="580.69" cy="250.06" r="2.4" fill="#ec1f26"/>
<circle cx="582.58" cy="246.44" r="2.4" fill="#ec1f26"/>
<circle cx="582.58" cy="250.42" r="2.4" fill="#ec1f26"/>
<circle cx="584.44" cy="249.34" r="2.4" fill="#ec1f26"/>
<circle cx="610.11" cy="259.79" r="2.4" fill="#ec1f26"/>
<circle cx="610.32" cy="258.87" r="2.4" fill="#ec1f26"/>
<circle cx="610.49" cy="258.17" r="2.4" fill="#ec1f26"/>
<circle cx="610.72" cy="258.52" r="2.4" fill="#ec1f26"/>
<circle cx="610.95" cy="257.07" r="2.4" fill="#ec1f26"/>
<circle cx="610.68" cy="258.61" r="2.4" fill="#ec1f26"/>
<circle cx="610.91" cy="258.29" r="2.4" fill="#ec1f26"/>
<circle cx="611.35" cy="257.92" r="2.4" fill="#ec1f26"/>
<circle cx="611.35" cy="258.65" r="2.4" fill="#ec1f26"/>
<circle cx="611.72" cy="258.81" r="2.4" fill="#ec1f26"/>
<circle cx="611.58" cy="258.08" r="2.4" fill="#ec1f26"/>
<circle cx="611.77" cy="257.42" r="2.4" fill="#ec1f26"/>
<circle cx="612.16" cy="257.92" r="2.4" fill="#ec1f26"/>
<circle cx="612.10" cy="258.06" r="2.4" fill="#ec1f26"/>
<circle cx="612.08" cy="259.19" r="2.4" fill="#ec1f26"/>
<circle cx="612.35" cy="259.16" r="2.4" fill="#ec1f26"/>
<circle cx="612.41" cy="258.01" r="2.4" fill="#ec1f26"/>
<circle cx="612.58" cy="257.52" r="2.4" fill="#ec1f26"/>
<circle cx="612.74" cy="257.97" r="2.4" fill="#ec1f26"/>
<circle cx="613.00" cy="258.31" r="2.4" fill="#ec1f26"/>
<circle cx="613.39" cy="257.30" r="2.4" fill="#ec1f26"/>
<circle cx="613.29" cy="258.51" r="2.4" fill="#ec1f26"/>
<circle cx="613.31" cy="257.03" r="2.4" fill="#ec1f26"/>
<circle cx="613.57" cy="257.66" r="2.4" fill="#ec1f26"/>
<circle cx="613.62" cy="258.31" r="2.4" fill="#ec1f26"/>
<circle cx="613.93" cy="257.85" r="2.4" fill="#ec1f26"/>
<circle cx="614.13" cy="256.90" r="2.4" fill="#ec1f26"/>
<circle cx="614.39" cy="257.73" r="2.4" fill="#ec1f26"/>
<circle cx="614.51" cy="256.48" r="2.4" fill="#ec1f26"/>
<circle cx="614.60" cy="257.41" r="2.4" fill="#ec1f26"/>
<circle cx="614.51" cy="256.44" r="2.4" fill="#ec1f26"/>
<circle cx="615.01" cy="257.12" r="2.4" fill="#ec1f26"/>
<circle cx="614.88" cy="257.15" r="2.4" fill="#ec1f26"/>
<circle cx="615.32" cy="257.19" r="2.4" fill="#ec1f26"/>
<circle cx="615.51" cy="256.59" r="2.4" fill="#ec1f26"/>
<circle cx="615.28" cy="256.66" r="2.4" fill="#ec1f26"/>
<circle cx="615.66" cy="255.82" r="2.4" fill="#ec1f26"/>
<circle cx="615.85" cy="255.62" r="2.4" fill="#ec1f26"/>
<circle cx="615.78" cy="256.36" r="2.4" fill="#ec1f26"/>
<circle cx="616.29" cy="256.14" r="2.4" fill="#ec1f26"/>
<circle cx="616.23" cy="256.42" r="2.4" fill="#ec1f26"/>
<circle cx="616.41" cy="257.30" r="2.4" fill="#ec1f26"/>
<circle cx="616.65" cy="256.66" r="2.4" fill="#ec1f26"/>
<circle cx="616.78" cy="258.18" r="2.4" fill="#ec1f26"/>
<circle cx="616.81" cy="255.24" r="2.4" fill="#ec1f26"/>
<circle cx="616.95" cy="258.46" r="2.4" fill="#ec1f26"/>
<circle cx="616.97" cy="258.63" r="2.4" fill="#ec1f26"/>
<circle cx="617.26" cy="259.00" r="2.4" fill="#ec1f26"/>
<circle cx="617.44" cy="255.17" r="2.4" fill="#ec1f26"/>
<circle cx="617.66" cy="255.81" r="2.4" fill="#ec1f26"/>
<circle cx="617.85" cy="257.13" r="2.4" fill="#ec1f26"/>
<circle cx="617.71" cy="255.29" r="2.4" fill="#ec1f26"/>
<circle cx="617.94" cy="253.59" r="2.4" fill="#ec1f26"/>
<circle cx="618.40" cy="251.90" r="2.4" fill="#ec1f26"/>
<circle cx="618.25" cy="257.35" r="2.4" fill="#ec1f26"/>
<circle cx="618.48" cy="253.54" r="2.4" fill="#ec1f26"/>
<circle cx="618.52" cy="257.58" r="2.4" fill="#ec1f26"/>
<circle cx="619.03" cy="254.12" r="2.4" fill="#ec1f26"/>
<circle cx="618.97" cy="254.45" r="2.4" fill="#ec1f26"/>
<circle cx="619.14" cy="253.05" r="2.4" fill="#ec1f26"/>
<circle cx="619.51" cy="254.37" r="2.4" fill="#ec1f26"/>
<circle cx="619.25" cy="253.88" r="2.4" fill="#ec1f26"/>
<circle cx="619.52" cy="253.72" r="2.4" fill="#ec1f26"/>
<circle cx="619.54" cy="254.11" r="2.4" fill="#ec1f26"/>
<circle cx="619.75" cy="251.39" r="2.4" fill="#ec1f26"/>
<circle cx="620.13" cy="252.54" r="2.4" fill="#ec1f26"/>
<circle cx="620.29" cy="252.46" r="2.4" fill="#ec1f26"/>
<circle cx="620.35" cy="251.19" r="2.4" fill="#ec1f26"/>
<circle cx="620.42" cy="254.45" r="2.4" fill="#ec1f26"/>
<circle cx="620.78" cy="250.38" r="2.4" fill="#ec1f26"/>
<circle cx="621.00" cy="248.91" r="2.4" fill="#ec1f26"/>
<circle cx="620.95" cy="250.30" r="2.4" fill="#ec1f26"/>
<circle cx="621.07" cy="255.59" r="2.4" fill="#ec1f26"/>
<circle cx="621.26" cy="253.63" r="2.4" fill="#ec1f26"/>
<circle cx="621.53" cy="250.73" r="2.4" fill="#ec1f26"/>
<circle cx="621.76" cy="253.90" r="2.4" fill="#ec1f26"/>
<circle cx="621.75" cy="251.16" r="2.4" fill="#ec1f26"/>
<circle cx="621.82" cy="253.06" r="2.4" fill="#ec1f26"/>
<circle cx="622.07" cy="250.98" r="2.4" fill="#ec1f26"/>
<circle cx="622.00" cy="253.45" r="2.4" fill="#ec1f26"/>
<circle cx="622.28" cy="250.75" r="2.4" fill="#ec1f26"/>
<circle cx="622.60" cy="251.63" r="2.4" fill="#ec1f26"/>
<circle cx="622.85" cy="254.98" r="2.4" fill="#ec1f26"/>
<circle cx="622.82" cy="250.15" r="2.4" fill="#ec1f26"/>
<circle cx="623.02" cy="253.83" r="2.4" fill="#ec1f26"/>
<circle cx="623.06" cy="250.63" r="2.4" fill="#ec1f26"/>
<circle cx="623.14" cy="246.94" r="2.4" fill="#ec1f26"/>
<circle cx="623.29" cy="254.03" r="2.4" fill="#ec1f26"/>
<circle cx="623.62" cy="244.21" r="2.4" fill="#ec1f26"/>
<circle cx="623.86" cy="248.19" r="2.4" fill="#ec1f26"/>
<circle cx="623.96" cy="246.67" r="2.4" fill="#ec1f26"/>
<circle cx="624.21" cy="247.64" r="2.4" fill="#ec1f26"/>
<circle cx="624.02" cy="252.38" r="2.4" fill="#ec1f26"/>
<circle cx="624.25" cy="247.07" r="2.4" fill="#ec1f26"/>
<circle cx="624.67" cy="245.58" r="2.4" fill="#ec1f26"/>
<circle cx="623.97" cy="245.48" r="2.4" fill="#ec1f26"/>
<circle cx="624.35" cy="249.45" r="2.4" fill="#ec1f26"/>
<circle cx="624.82" cy="248.77" r="2.4" fill="#ec1f26"/>
<circle cx="624.88" cy="250.29" r="2.4" fill="#ec1f26"/>
<circle cx="623.76" cy="248.21" r="2.4" fill="#ec1f26"/>
<circle cx="625.21" cy="252.69" r="2.4" fill="#ec1f26"/>
<circle cx="623.98" cy="249.98" r="2.4" fill="#ec1f26"/>
<circle cx="626.00" cy="247.23" r="2.4" fill="#ec1f26"/>
<circle cx="626.29" cy="243.63" r="2.4" fill="#ec1f26"/>
<circle cx="624.00" cy="249.27" r="2.4" fill="#ec1f26"/>
<circle cx="624.55" cy="250.37" r="2.4" fill="#ec1f26"/>
<circle cx="624.50" cy="248.51" r="2.4" fill="#ec1f26"/>
<circle cx="626.03" cy="246.70" r="2.4" fill="#ec1f26"/>
<circle cx="624.81" cy="247.72" r="2.4" fill="#ec1f26"/>
<circle cx="623.49" cy="252.89" r="2.4" fill="#ec1f26"/>
<circle cx="624.94" cy="251.30" r="2.4" fill="#ec1f26"/>
<circle cx="623.90" cy="249.42" r="2.4" fill="#ec1f26"/>
<circle cx="626.08" cy="245.33" r="2.4" fill="#ec1f26"/>
<circle cx="625.59" cy="246.27" r="2.4" fill="#ec1f26"/>
<circle cx="624.83" cy="251.27" r="2.4" fill="#ec1f26"/>
<circle cx="625.83" cy="244.89" r="2.4" fill="#ec1f26"/>
<circle cx="625.51" cy="248.46" r="2.4" fill="#ec1f26"/>
<circle cx="623.33" cy="248.79" r="2.4" fill="#ec1f26"/>
<circle cx="625.41" cy="244.57" r="2.4" fill="#ec1f26"/>
<circle cx="624.80" cy="250.91" r="2.4" fill="#ec1f26"/>
<circle cx="624.06" cy="244.97" r="2.4" fill="#ec1f26"/>
<circle cx="624.50" cy="250.73" r="2.4" fill="#ec1f26"/>
<circle cx="625.38" cy="246.61" r="2.4" fill="#ec1f26"/>
<circle cx="623.49" cy="253.69" r="2.4" fill="#ec1f26"/>
<circle cx="623.31" cy="252.28" r="2.4" fill="#ec1f26"/>
<circle cx="626.13" cy="242.95" r="2.4" fill="#ec1f26"/>
<circle cx="625.27" cy="250.38" r="2.4" fill="#ec1f26"/>
<circle cx="625.22" cy="248.79" r="2.4" fill="#ec1f26"/>
<circle cx="626.24" cy="242.12" r="2.4" fill="#ec1f26"/>
<circle cx="624.49" cy="247.76" r="2.4" fill="#ec1f26"/>
<circle cx="624.41" cy="246.69" r="2.4" fill="#ec1f26"/>
<circle cx="624.81" cy="246.66" r="2.4" fill="#ec1f26"/>
<circle cx="626.28" cy="249.14" r="2.4" fill="#ec1f26"/>
<circle cx="625.57" cy="250.72" r="2.4" fill="#ec1f26"/>
<circle cx="623.76" cy="250.93" r="2.4" fill="#ec1f26"/>
<circle cx="623.46" cy="249.35" r="2.4" fill="#ec1f26"/>
<circle cx="624.87" cy="249.98" r="2.4" fill="#ec1f26"/>
<circle cx="624.97" cy="249.20" r="2.4" fill="#ec1f26"/>
<circle cx="624.17" cy="246.65" r="2.4" fill="#ec1f26"/>
<circle cx="625.56" cy="246.69" r="2.4" fill="#ec1f26"/>
<circle cx="625.54" cy="241.62" r="2.4" fill="#ec1f26"/>
<circle cx="626.01" cy="243.66" r="2.4" fill="#ec1f26"/>
<circle cx="626.21" cy="245.82" r="2.4" fill="#ec1f26"/>
<circle cx="624.69" cy="244.66" r="2.4" fill="#ec1f26"/>
<circle cx="625.10" cy="244.57" r="2.4" fill="#ec1f26"/>
<circle cx="623.78" cy="242.69" r="2.4" fill="#ec1f26"/>
<circle cx="624.88" cy="242.36" r="2.4" fill="#ec1f26"/>
<circle cx="625.78" cy="244.00" r="2.4" fill="#ec1f26"/>
<circle cx="625.64" cy="244.66" r="2.4" fill="#ec1f26"/>
<circle cx="623.31" cy="245.32" r="2.4" fill="#ec1f26"/>
<circle cx="625.29" cy="246.97" r="2.4" fill="#ec1f26"/>
<rect x="585" y="185.2" width="24.80" height="81.20" fill="#6fc8c0"/>
<line x1="461.5" y1="263.50" x2="738.8" y2="263.50" stroke="rgba(70,70,170,0.13)" stroke-width="1.2"/>
<line x1="461.5" y1="205.50" x2="738.8" y2="205.50" stroke="rgba(70,70,170,0.13)" stroke-width="1.2"/>
<line x1="461.5" y1="147.50" x2="738.8" y2="147.50" stroke="rgba(70,70,170,0.13)" stroke-width="1.2"/>
<line x1="461.5" y1="89.50" x2="738.8" y2="89.50" stroke="rgba(70,70,170,0.13)" stroke-width="1.2"/>
<line x1="461.5" y1="31.50" x2="738.8" y2="31.50" stroke="rgba(70,70,170,0.13)" stroke-width="1.2"/>
<rect x="552" y="24" width="100" height="44" fill="#fff"/>
<path d="M464.80 31.20 L466.99 31.35 L469.18 31.79 L471.38 32.52 L473.57 33.54 L475.76 34.84 L477.95 36.44 L480.14 38.31 L482.34 40.45 L484.53 42.87 L486.72 45.55 L488.91 48.48 L491.10 51.67 L493.30 55.10 L495.49 58.76 L497.68 62.64 L499.87 66.74 L502.06 71.04 L504.26 75.53 L506.45 80.20 L508.64 85.04 L510.83 90.04 L513.02 95.19 L515.22 100.46 L517.41 105.86 L519.60 111.35 L521.79 116.94 L523.98 122.61 L526.18 128.33 L528.37 134.11 L530.56 139.92 L532.75 145.74 L534.94 151.57 L537.14 157.39 L539.33 163.18 L541.52 168.94 L543.71 174.63 L545.90 180.26 L548.10 185.81 L550.29 191.25 L552.48 196.59 L554.67 201.80 L556.86 206.87 L559.06 211.80 L561.25 216.56 L563.44 221.14 L565.63 225.54 L567.82 229.74 L570.02 233.73 L572.21 237.50 L574.40 241.05 L576.59 244.35 L578.78 247.42 L580.98 250.22 L583.17 252.77 L585.36 255.05 L587.55 257.06 L589.74 258.80 L591.94 260.25 L594.13 261.41 L596.32 262.29 L598.51 262.87 L600.70 263.16 L602.90 263.16 L605.09 262.87 L607.28 262.29 L609.47 261.41 L611.66 260.25 L613.86 258.80 L616.05 257.06 L618.24 255.05 L620.43 252.77 L622.62 250.22 L624.82 247.42 L627.01 244.35 L629.20 241.05 L631.39 237.50 L633.58 233.73 L635.78 229.74 L637.97 225.54 L640.16 221.14 L642.35 216.56 L644.54 211.80 L646.74 206.87 L648.93 201.80 L651.12 196.59 L653.31 191.25 L655.50 185.81 L657.70 180.26 L659.89 174.63 L662.08 168.94 L664.27 163.18 L666.46 157.39 L668.66 151.57 L670.85 145.74 L673.04 139.92 L675.23 134.11 L677.42 128.33 L679.62 122.61 L681.81 116.94 L684.00 111.35 L686.19 105.86 L688.38 100.46 L690.58 95.19 L692.77 90.04 L694.96 85.04 L697.15 80.20 L699.34 75.53 L701.54 71.04 L703.73 66.74 L705.92 62.64 L708.11 58.76 L710.30 55.10 L712.50 51.67 L714.69 48.48 L716.88 45.55 L719.07 42.87 L721.26 40.45 L723.46 38.31 L725.65 36.44 L727.84 34.84 L730.03 33.54 L732.22 32.52 L734.42 31.79 L736.61 31.35 L738.80 31.20" stroke="#000" stroke-width="1.8" fill="none"/>
<path d="M461.5 31.2V266.5H738.8" stroke="#555" stroke-width="1" fill="none"/>
<path d="M461.5 263.20h-6.5M461.5 251.60h-3.3M461.5 240.00h-3.3M461.5 228.40h-3.3M461.5 216.80h-3.3M461.5 205.20h-6.5M461.5 193.60h-3.3M461.5 182.00h-3.3M461.5 170.40h-3.3M461.5 158.80h-3.3M461.5 147.20h-6.5M461.5 135.60h-3.3M461.5 124.00h-3.3M461.5 112.40h-3.3M461.5 100.80h-3.3M461.5 89.20h-6.5M461.5 77.60h-3.3M461.5 66.00h-3.3M461.5 54.40h-3.3M461.5 42.80h-3.3M461.5 31.20h-6.5M464.80 266.5v4.4M470.28 266.5v3.2M475.76 266.5v3.2M481.24 266.5v3.2M486.72 266.5v3.2M492.20 266.5v5.5M497.68 266.5v3.2M503.16 266.5v3.2M508.64 266.5v3.2M514.12 266.5v3.2M519.60 266.5v4.4M525.08 266.5v3.2M530.56 266.5v3.2M536.04 266.5v3.2M541.52 266.5v3.2M547.00 266.5v5.5M552.48 266.5v3.2M557.96 266.5v3.2M563.44 266.5v3.2M568.92 266.5v3.2M574.40 266.5v4.4M579.88 266.5v3.2M585.36 266.5v3.2M590.84 266.5v3.2M596.32 266.5v3.2M601.80 266.5v5.5M607.28 266.5v3.2M612.76 266.5v3.2M618.24 266.5v3.2M623.72 266.5v3.2M629.20 266.5v4.4M634.68 266.5v3.2M640.16 266.5v3.2M645.64 266.5v3.2M651.12 266.5v3.2M656.60 266.5v5.5M662.08 266.5v3.2M667.56 266.5v3.2M673.04 266.5v3.2M678.52 266.5v3.2M684.00 266.5v4.4M689.48 266.5v3.2M694.96 266.5v3.2M700.44 266.5v3.2M705.92 266.5v3.2M711.40 266.5v5.5M716.88 266.5v3.2M722.36 266.5v3.2M727.84 266.5v3.2M733.32 266.5v3.2M738.80 266.5v4.4" stroke="#555" stroke-width="1" fill="none"/>
<text x="428.00" y="269.00" font-family="Liberation Sans, sans-serif" font-size="16" fill="#111" textLength="24.80" lengthAdjust="spacingAndGlyphs" stroke="#111" stroke-width="0.18">0.0</text>
<text x="428.00" y="211.00" font-family="Liberation Sans, sans-serif" font-size="16" fill="#111" textLength="24.80" lengthAdjust="spacingAndGlyphs" stroke="#111" stroke-width="0.18">0.5</text>
<text x="429.20" y="153.00" font-family="Liberation Sans, sans-serif" font-size="16" fill="#111" textLength="23.60" lengthAdjust="spacingAndGlyphs" stroke="#111" stroke-width="0.18">1.0</text>
<text x="429.20" y="95.00" font-family="Liberation Sans, sans-serif" font-size="16" fill="#111" textLength="23.60" lengthAdjust="spacingAndGlyphs" stroke="#111" stroke-width="0.18">1.5</text>
<text x="428.00" y="37.00" font-family="Liberation Sans, sans-serif" font-size="16" fill="#111" textLength="24.80" lengthAdjust="spacingAndGlyphs" stroke="#111" stroke-width="0.18">2.0</text>
<text x="479.90" y="291.70" font-family="Liberation Sans, sans-serif" font-size="16" fill="#111" textLength="24.30" lengthAdjust="spacingAndGlyphs" stroke="#111" stroke-width="0.18">0.3</text>
<text x="534.70" y="291.70" font-family="Liberation Sans, sans-serif" font-size="16" fill="#111" textLength="24.30" lengthAdjust="spacingAndGlyphs" stroke="#111" stroke-width="0.18">0.4</text>
<text x="589.50" y="291.70" font-family="Liberation Sans, sans-serif" font-size="16" fill="#111" textLength="24.30" lengthAdjust="spacingAndGlyphs" stroke="#111" stroke-width="0.18">0.5</text>
<text x="644.30" y="291.70" font-family="Liberation Sans, sans-serif" font-size="16" fill="#111" textLength="24.30" lengthAdjust="spacingAndGlyphs" stroke="#111" stroke-width="0.18">0.6</text>
<text x="699.10" y="291.70" font-family="Liberation Sans, sans-serif" font-size="16" fill="#111" textLength="24.30" lengthAdjust="spacingAndGlyphs" stroke="#111" stroke-width="0.18">0.7</text>
<line x1="555.2" y1="36.5" x2="588.6" y2="36.5" stroke="#000" stroke-width="1.8"/>
<circle cx="571.5" cy="56.3" r="5.7" fill="#ec1f26"/>
<text x="596.50" y="41.10" font-family="Liberation Sans, sans-serif" font-size="17" fill="#111" textLength="55.50" lengthAdjust="spacingAndGlyphs" stroke="#111" stroke-width="0.18">Theory</text>
<text x="596.50" y="61.70" font-family="Liberation Sans, sans-serif" font-size="17" fill="#111" textLength="37.30" lengthAdjust="spacingAndGlyphs" stroke="#111" stroke-width="0.18">Data</text>
<text x="387.50" y="17.60" font-family="Liberation Sans, sans-serif" font-size="18.5" fill="#111" textLength="16.50" lengthAdjust="spacingAndGlyphs" stroke="#111" stroke-width="0.18">b)</text>
<text x="397.00" y="131.30" font-family="Liberation Sans, sans-serif" font-size="16.0" fill="#111" textLength="8.60" lengthAdjust="spacingAndGlyphs" stroke="#111" stroke-width="0.18">S</text>
<text x="383.10" y="151.30" font-family="Liberation Sans, sans-serif" font-size="15.5" fill="#111" textLength="5.00" lengthAdjust="spacingAndGlyphs" stroke="#111" stroke-width="0.18">[</text>
<text x="390.20" y="151.70" font-family="Liberation Sans, sans-serif" font-size="16.6" fill="#111" textLength="7.70" lengthAdjust="spacingAndGlyphs" stroke="#111" stroke-width="0.18">&#295;</text>
<text x="399.10" y="151.70" font-family="Liberation Serif, serif" font-size="20" fill="#4a4a4a" textLength="12.30" lengthAdjust="spacingAndGlyphs" stroke="#4a4a4a" stroke-width="0.35">&#969;</text>
<text x="411.70" y="157.50" font-family="Liberation Serif, serif" font-size="14" fill="#555" textLength="5.00" lengthAdjust="spacingAndGlyphs" stroke="#555" stroke-width="0.3">a</text>
<text x="417.10" y="151.30" font-family="Liberation Sans, sans-serif" font-size="15.5" fill="#111" textLength="5.00" lengthAdjust="spacingAndGlyphs" stroke="#111" stroke-width="0.18">]</text>
<text x="594.20" y="316.60" font-family="Liberation Sans, sans-serif" font-size="22.5" fill="#111" textLength="20.20" lengthAdjust="spacingAndGlyphs" stroke="#111" stroke-width="0.18">L/</text>
<path d="M616.21 302.80L627.20 316.60M619.43 309.01L613.80 316.60" stroke="#111" stroke-width="1.8" fill="none"/>
<path d="M756.2 30.9H746.5" stroke="#a46fbd" stroke-width="1.9" fill="none"/>
<path d="M740.4 30.9L747.0 24.299999999999997V37.5Z" fill="#8a4ea8"/>
<path d="M749.3 146.9H678.4" stroke="#8e52ac" stroke-width="1.3" fill="none"/>
<path d="M672.4 146.9L678.9 140.4V153.4Z" fill="#8a4ea8"/>
<path d="M758.2 264.2H607.8" stroke="#8e52ac" stroke-width="1.2" fill="none"/>
<path d="M601.9 264.2L608.3 259.3V269.09999999999997Z" fill="#8a4ea8"/>
<text x="756.80" y="25.00" font-family="Liberation Sans, sans-serif" font-size="16.5" fill="#111" textLength="68.50" lengthAdjust="spacingAndGlyphs" stroke="#111" stroke-width="0.18">Antinode</text>
<text x="764.30" y="46.20" font-family="Liberation Sans, sans-serif" font-size="16" fill="#111" textLength="59.00" lengthAdjust="spacingAndGlyphs" stroke="#111" stroke-width="0.18">vacuum</text>
<text x="751.80" y="142.60" font-family="Liberation Sans, sans-serif" font-size="16.5" fill="#111" textLength="72.50" lengthAdjust="spacingAndGlyphs" stroke="#111" stroke-width="0.18">Mirrorless</text>
<text x="759.20" y="164.90" font-family="Liberation Sans, sans-serif" font-size="16" fill="#111" textLength="59.20" lengthAdjust="spacingAndGlyphs" stroke="#111" stroke-width="0.18">vacuum</text>
<text x="772.80" y="256.30" font-family="Liberation Sans, sans-serif" font-size="16.5" fill="#111" textLength="40.90" lengthAdjust="spacingAndGlyphs" stroke="#111" stroke-width="0.18">Node</text>
<text x="762.60" y="277.60" font-family="Liberation Sans, sans-serif" font-size="16" fill="#111" textLength="58.10" lengthAdjust="spacingAndGlyphs" stroke="#111" stroke-width="0.18">vacuum</text>
</svg>
</body></html>
